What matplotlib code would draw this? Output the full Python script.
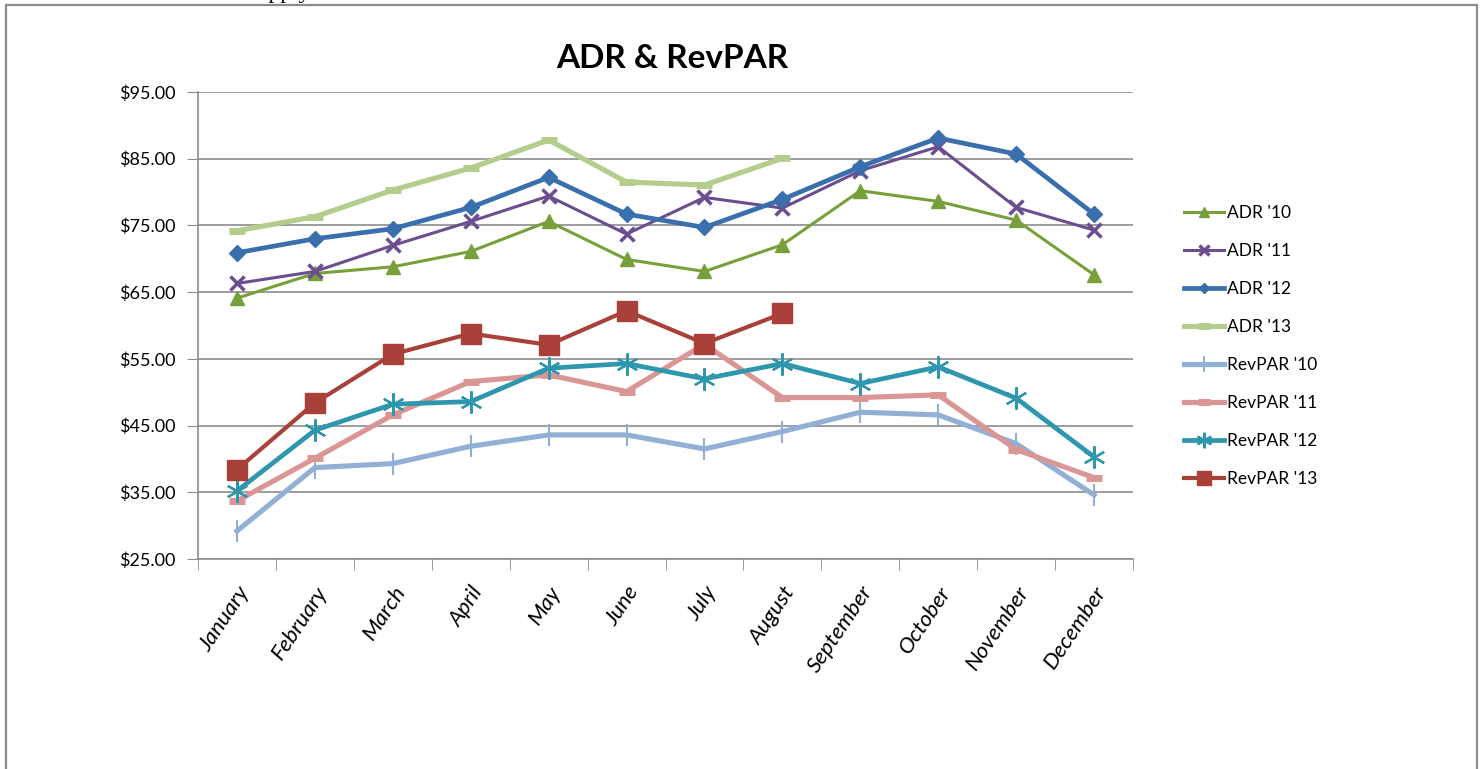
import numpy as np
import matplotlib
matplotlib.use('Agg')
import matplotlib.pyplot as plt
from matplotlib.lines import Line2D

months = ['January', 'February', 'March', 'April', 'May', 'June', 'July',
          'August', 'September', 'October', 'November', 'December']

adr_10 = [64.1, 67.8, 68.8, 71.1, 75.6, 69.9, 68.1, 72.1, 80.2, 78.6, 75.8, 67.6]
adr_11 = [66.3, 68.1, 72.0, 75.6, 79.4, 73.7, 79.2, 77.6, 83.2, 86.8, 77.7, 74.3]
adr_12 = [70.9, 73.0, 74.5, 77.7, 82.2, 76.7, 74.7, 78.9, 83.8, 88.1, 85.7, 76.7]
adr_13 = [74.2, 76.3, 80.3, 83.6, 87.8, 81.5, 81.05, 85.05]
revpar_10 = [29.2, 38.7, 39.3, 41.9, 43.6, 43.6, 41.5, 44.1, 47.0, 46.6, 42.3, 34.6]
revpar_11 = [33.7, 40.1, 46.6, 51.6, 52.6, 50.1, 57.2, 49.2, 49.2, 49.6, 41.4, 37.2]
revpar_12 = [35.2, 44.3, 48.2, 48.6, 53.6, 54.3, 52.0, 54.3, 51.3, 53.8, 49.1, 40.3]
revpar_13 = [38.4, 48.4, 55.7, 58.8, 57.1, 62.2, 57.3, 61.8]

yticks = [25, 35, 45, 55, 65, 75, 85, 95]

plt.rcParams['font.family'] = ['Lato', 'DejaVu Sans']

fig = plt.figure(figsize=(14.81, 7.69), dpi=100)

# outer frame of the embedded chart
frame_col = '#8c8c8c'
fig.add_artist(Line2D([5.5/1481, 5.5/1481], [0, 1 - 4.5/769], transform=fig.transFigure, color=frame_col, lw=1.6))
fig.add_artist(Line2D([1476.5/1481, 1476.5/1481], [0, 1 - 4.5/769], transform=fig.transFigure, color=frame_col, lw=1.6))
fig.add_artist(Line2D([5.5/1481, 1476.5/1481], [1 - 4.5/769, 1 - 4.5/769], transform=fig.transFigure, color=frame_col, lw=1.6))
# clipped fragment of surrounding document text
fig.text(258/1481, 1 + 2/769, 'apply', family='Liberation Serif', fontsize=17, va='baseline', ha='left')

ax = fig.add_axes([198/1481, 1 - 559/769, (1133 - 198)/1481, (559 - 92)/769])

x = np.arange(len(months))
series = [
    ("ADR '10", adr_10, '#77A03A', 2.2, '^', 10, 1),
    ("ADR '11", adr_11, '#6B4E90', 2.2, 'x', 10, 2.5),
    ("ADR '12", adr_12, '#3A6FAE', 3.4, 'D', 8, 1),
    ("ADR '13", adr_13, '#B4CD8C', 3.7, '_', 12, 5),
    ("RevPAR '10", revpar_10, '#92B0D6', 3.7, '|', 16, 1.5),
    ("RevPAR '11", revpar_11, '#D99694', 3.7, '_', 12, 5),
    ("RevPAR '12", revpar_12, '#2E97AE', 3.4, (6, 2, 0), 16, 1.6),
    ("RevPAR '13", revpar_13, '#A9413A', 3.0, 's', 14, 1),
]
handles = []
for name, vals, col, lw, mk, ms, mew in series:
    xs = x[:len(vals)]
    ax.plot(xs, vals, color=col, lw=lw, marker=mk, markersize=ms,
            markeredgewidth=mew, markeredgecolor=col, markerfacecolor=col,
            solid_joinstyle='round', zorder=3)
    handles.append(Line2D([], [], color=col, lw=lw, marker=mk, markersize=ms * 0.7,
                          markeredgewidth=mew, markeredgecolor=col, markerfacecolor=col, label=name))

ax.set_xlim(-0.5, 11.5)
ax.set_ylim(25, 95)
ax.set_yticks(yticks)
ax.set_yticklabels(['${:.2f}'.format(v) for v in yticks], fontsize=13)
ax.yaxis.grid(True, color='#8c8c8c', lw=1.2)
ax.set_axisbelow(True)
ax.tick_params(axis='y', length=8, color='#8c8c8c', pad=8)

ax.set_xticks(x)
ax.set_xticklabels(months, rotation=56, fontsize=16, style='italic',
                   ha='right', va='top', rotation_mode='anchor')
ax.tick_params(axis='x', length=0, pad=17)
ax.set_xticks(np.arange(-0.5, 12, 1), minor=True)
ax.tick_params(axis='x', which='minor', length=8, color='#8c8c8c', direction='out')

for s in ['top', 'right']:
    ax.spines[s].set_visible(False)
for s in ['left', 'bottom']:
    ax.spines[s].set_color('#8c8c8c')
    ax.spines[s].set_linewidth(1.2)

fig.text(672/1481, 1 - 58/769, 'ADR & RevPAR', ha='center', va='center',
         fontsize=24, fontweight='bold')

fig.legend(handles=handles, loc='upper left', bbox_to_anchor=(1175/1481, 1 - 196/769),
           frameon=False, fontsize=12.5, handlelength=2.3, handletextpad=0.2,
           labelspacing=1.27, borderpad=0)

fig.savefig('out.png', dpi=100)
